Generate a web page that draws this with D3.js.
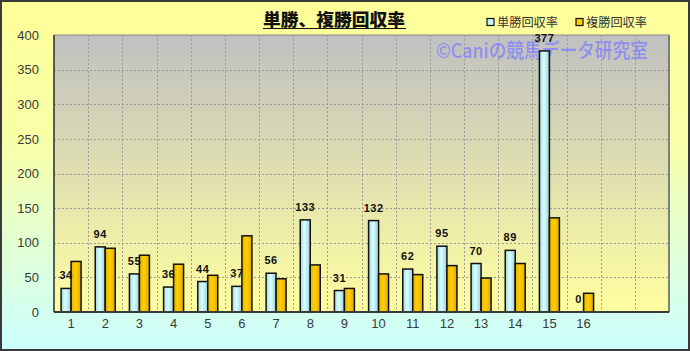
<!DOCTYPE html>
<html><head><meta charset="utf-8">
<script src="https://cdn.jsdelivr.net/npm/d3@7"></script>
<style>html,body{margin:0;padding:0;background:#fff;}svg{display:block;}</style>
</head><body>
<script>
const categories = ["1","2","3","4","5","6","7","8","9","10","11","12","13","14","15","16","17","18"];
const tickLabels = ["1","2","3","4","5","6","7","8","9","10","11","12","13","14","15","16","",""];
const seriesNames = ["単勝回収率","複勝回収率"];
const winValues = [34,94,55,36,44,37,56,133,31,132,62,95,70,89,377,0];
const placeValues = [73,92,82,69,53,110,48,68,34,55,54,67,49,70,136,27];
const yTicks = [0,50,100,150,200,250,300,350,400];

const W = 690, H = 351;
const svg = d3.select("body").append("svg").attr("width", W).attr("height", H);
const defs = svg.append("defs");

const bg = defs.append("linearGradient").attr("id","bg").attr("x1",0).attr("y1",0).attr("x2",0).attr("y2",1);
bg.append("stop").attr("offset","0%").attr("stop-color","#ffff99");
bg.append("stop").attr("offset","40%").attr("stop-color","#f8ffa8");
bg.append("stop").attr("offset","100%").attr("stop-color","#ccffff");

const pg = defs.append("linearGradient").attr("id","pg").attr("x1",0).attr("y1",0).attr("x2",0).attr("y2",1);
pg.append("stop").attr("offset","0%").attr("stop-color","#c0c0c0");
pg.append("stop").attr("offset","100%").attr("stop-color","#ffffa0");

const gb = defs.append("linearGradient").attr("id","gb").attr("x1",0).attr("y1",0).attr("x2",1).attr("y2",0);
gb.append("stop").attr("offset","0%").attr("stop-color","#a6d8de");
gb.append("stop").attr("offset","45%").attr("stop-color","#d8ffff");
gb.append("stop").attr("offset","100%").attr("stop-color","#9ccfd6");
const gg = defs.append("linearGradient").attr("id","gg").attr("x1",0).attr("y1",0).attr("x2",1).attr("y2",0);
gg.append("stop").attr("offset","0%").attr("stop-color","#e8b000");
gg.append("stop").attr("offset","45%").attr("stop-color","#ffd000");
gg.append("stop").attr("offset","100%").attr("stop-color","#e0a800");

svg.append("rect").attr("x",1).attr("y",1).attr("width",W-2).attr("height",H-2)
  .attr("fill","url(#bg)").attr("stroke","#3a3a3a").attr("stroke-width",2);

const L = 54, R = 669, T = 35, B = 312;
const x0 = d3.scaleBand().domain(categories).range([L,R]).padding(0);
const bw = x0.bandwidth();
const x1 = d3.scaleBand().domain(seriesNames).range([bw/2-10, bw/2+10]).padding(0);
const y = d3.scaleLinear().domain([0,400]).range([B,T]);

svg.append("rect").attr("x",L).attr("y",T).attr("width",R-L).attr("height",B-T)
  .attr("fill","url(#pg)").attr("stroke","#8a8a8a").attr("stroke-width",1);

// gridlines
const grid = svg.append("g");
grid.selectAll("line.h").data(yTicks.slice(1,-1)).join("line")
  .attr("x1",L).attr("x2",R).attr("y1",d=>Math.round(y(d))+0.5).attr("y2",d=>Math.round(y(d))+0.5)
  .attr("stroke","#9a9a9a").attr("stroke-dasharray","2,2").attr("stroke-width",1);
grid.selectAll("line.v").data(categories.slice(1)).join("line")
  .attr("y1",T).attr("y2",B).attr("x1",d=>Math.round(x0(d))+0.5).attr("x2",d=>Math.round(x0(d))+0.5)
  .attr("stroke","#9a9a9a").attr("stroke-dasharray","2,2").attr("stroke-width",1);

// watermark
svg.append("text").attr("x",436).attr("y",58).text("©Caniの競馬データ研究室")
  .attr("font-family","'Noto Sans CJK JP', sans-serif").attr("font-size",20).attr("font-weight",500)
  .attr("fill","#8080ff").attr("fill-opacity",0.8).attr("textLength",212).attr("lengthAdjust","spacingAndGlyphs");

// axes lines
svg.append("line").attr("x1",L).attr("x2",L).attr("y1",T).attr("y2",B).attr("stroke","#3a3a3a").attr("stroke-width",1.5);
svg.append("line").attr("x1",R).attr("x2",R).attr("y1",T).attr("y2",B).attr("stroke","#6a6a6a").attr("stroke-width",1.5);

// bars
const groups = svg.append("g").selectAll("g").data(categories.slice(0,winValues.length)).join("g")
  .attr("transform",d=>`translate(${x0(d)},0)`);
groups.append("rect").attr("x",x1(seriesNames[0])).attr("width",x1.bandwidth())
  .attr("y",(d,i)=>y(winValues[i])).attr("height",(d,i)=>B-y(winValues[i]))
  .attr("fill","url(#gb)").attr("stroke","#111").attr("stroke-width",1.5);
groups.append("rect").attr("x",x1(seriesNames[1])).attr("width",x1.bandwidth())
  .attr("y",(d,i)=>y(placeValues[i])).attr("height",(d,i)=>B-y(placeValues[i]))
  .attr("fill","url(#gg)").attr("stroke","#111").attr("stroke-width",1.5);
groups.append("text").attr("x",x1(seriesNames[0])+x1.bandwidth()/2)
  .attr("y",(d,i)=>y(winValues[i])-9).attr("text-anchor","middle")
  .attr("font-family","'Liberation Sans', Arial, sans-serif").attr("font-weight","bold").attr("font-size",11)
  .attr("fill","#111").attr("letter-spacing",0.5).text((d,i)=>winValues[i]);

svg.append("line").attr("x1",L).attr("x2",R).attr("y1",B).attr("y2",B).attr("stroke","#3a3a3a").attr("stroke-width",2);

// y axis labels
const yAxis = d3.axisLeft(y).tickValues(yTicks).tickSize(0).tickPadding(0);
const ya = svg.append("g").attr("transform",`translate(39,0)`).call(yAxis);
ya.select(".domain").remove();
ya.selectAll("text").attr("font-family","'Liberation Sans', Arial, sans-serif").attr("font-size",13).attr("fill","#3a3a3a");

// x axis labels
const xAxis = d3.axisBottom(x0).tickFormat((d,i)=>tickLabels[i]).tickSize(0).tickPadding(0);
const xa = svg.append("g").attr("transform",`translate(0,319)`).call(xAxis);
xa.select(".domain").remove();
xa.selectAll("text").attr("font-family","'Liberation Sans', Arial, sans-serif").attr("font-size",13).attr("fill","#3a3a3a");

// title
svg.append("text").attr("x",334).attr("y",26).attr("text-anchor","middle")
  .attr("font-family","'Noto Sans CJK JP', sans-serif").attr("font-weight",900).attr("font-size",17)
  .attr("fill","#111").attr("textLength",142).attr("lengthAdjust","spacingAndGlyphs").text("単勝、複勝回収率");
svg.append("line").attr("x1",263).attr("x2",406).attr("y1",28.5).attr("y2",28.5).attr("stroke","#111").attr("stroke-width",1.2);

// legend
const legX = [487, 576];
const lg = svg.append("g").selectAll("g").data(seriesNames).join("g")
  .attr("transform",(d,i)=>`translate(${legX[i]},22)`);
lg.append("rect").attr("x",0).attr("y",-3.5).attr("width",7).attr("height",7)
  .attr("fill",(d,i)=>i===0?"#c8f4f8":"#ffcc00").attr("stroke","#111").attr("stroke-width",1.2);
lg.append("text").attr("x",10).attr("y",4.5).text(d=>d)
  .attr("font-family","'Noto Sans CJK JP', sans-serif").attr("font-size",12).attr("fill","#333")
  .attr("textLength",61).attr("lengthAdjust","spacingAndGlyphs");
</script>
</body></html>
